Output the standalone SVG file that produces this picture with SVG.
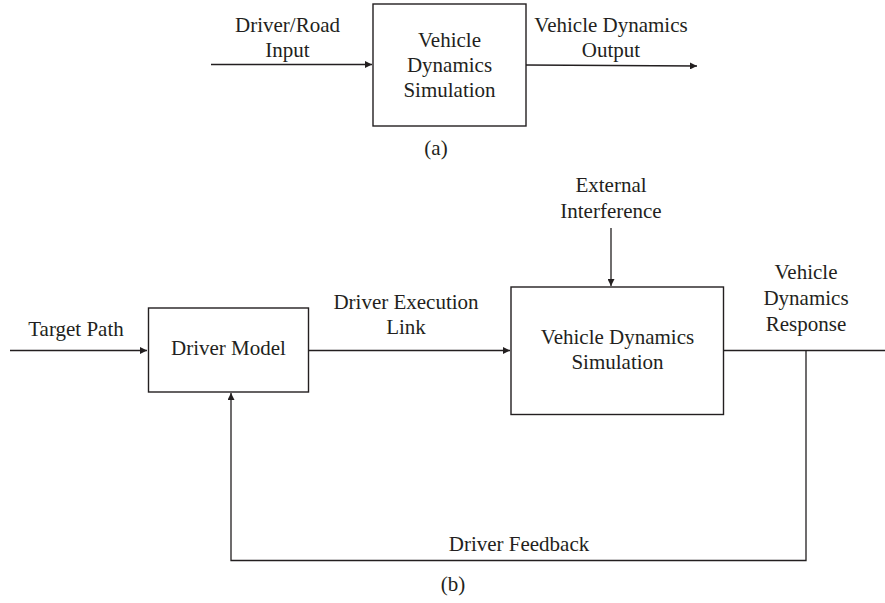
<svg xmlns="http://www.w3.org/2000/svg" width="885" height="603" viewBox="0 0 885 603">
<style>
.box{fill:#fff;stroke:#231f20;stroke-width:1.4}
.ln{fill:none;stroke:#231f20;stroke-width:1.3}
text{font-family:"Liberation Serif","Times New Roman",serif;font-size:21px;fill:#231f20;text-anchor:middle}
</style>
<defs>
<marker id="ah" viewBox="0 0 10 10" refX="10" refY="5" markerWidth="8" markerHeight="7" markerUnits="userSpaceOnUse" orient="auto">
<path d="M0,0 L10,5 L0,10 Z" fill="#231f20"/>
</marker>
</defs>
<g id="connectors">
<line class="ln" x1="211" y1="64.5" x2="372" y2="64.5" marker-end="url(#ah)"/>
<line class="ln" x1="526" y1="65" x2="697" y2="66" marker-end="url(#ah)"/>
<line class="ln" x1="10" y1="350.5" x2="147" y2="350.5" marker-end="url(#ah)"/>
<line class="ln" x1="308" y1="350.5" x2="510" y2="350.5" marker-end="url(#ah)"/>
<line class="ln" x1="611" y1="228" x2="611" y2="286" marker-end="url(#ah)"/>
<line class="ln" x1="724" y1="350.5" x2="885" y2="350.5"/>
<polyline class="ln" points="806,350.5 806,560.5 231,560.5 231,393" marker-end="url(#ah)"/>
</g>
<g id="top-labels">
<text x="287.5" y="32">Driver/Road</text>
<text x="287.5" y="57">Input</text>
<text x="611" y="32">Vehicle Dynamics</text>
<text x="611" y="57">Output</text>
<text x="436" y="155">(a)</text>
</g>
<g id="node-vds-a">
<rect class="box" x="373" y="4" width="153" height="122"/>
<text x="449.5" y="47">Vehicle</text>
<text x="449.5" y="72">Dynamics</text>
<text x="449.5" y="97">Simulation</text>
</g>
<g id="node-driver-model">
<rect class="box" x="148.5" y="308" width="160" height="84"/>
<text x="228.5" y="355">Driver Model</text>
</g>
<g id="node-vds-b">
<rect class="box" x="511" y="287" width="212.5" height="127.5"/>
<text x="617.5" y="343.5">Vehicle Dynamics</text>
<text x="617.5" y="369">Simulation</text>
</g>
<g id="bottom-labels">
<text x="76" y="336">Target Path</text>
<text x="406" y="308.5">Driver Execution</text>
<text x="406" y="334">Link</text>
<text x="611" y="192">External</text>
<text x="611" y="217.5">Interference</text>
<text x="806" y="278.5">Vehicle</text>
<text x="806" y="305">Dynamics</text>
<text x="806" y="330.5">Response</text>
<text x="519" y="551">Driver Feedback</text>
<text x="453" y="591">(b)</text>
</g>
</svg>
